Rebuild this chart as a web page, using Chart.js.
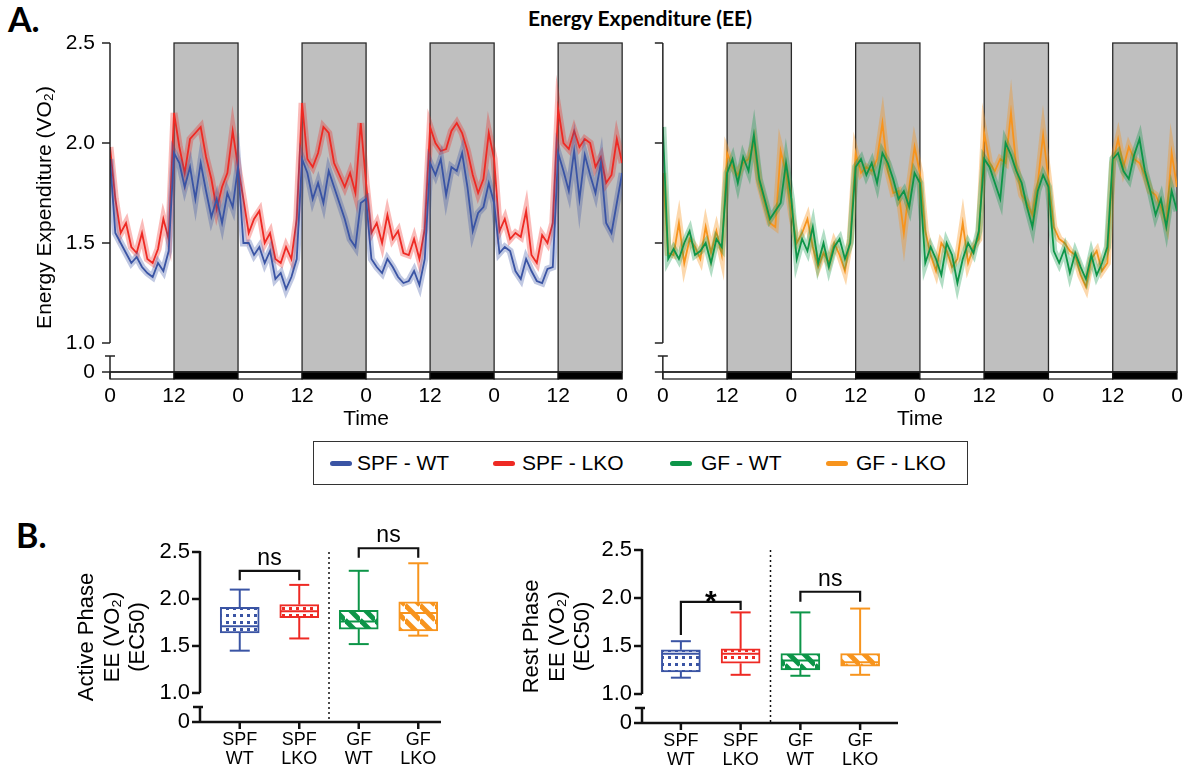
<!DOCTYPE html>
<html><head><meta charset="utf-8">
<script src="https://cdn.jsdelivr.net/npm/chart.js@4/dist/chart.umd.min.js"></script>
<style>
html,body{margin:0;padding:0;background:#fff;}
body{width:1195px;height:773px;position:relative;overflow:hidden;font-family:"Liberation Sans",Arial,sans-serif;color:#000;}
canvas{position:absolute;}
.bold{position:absolute;font-family:Lato,"Liberation Sans",sans-serif;font-weight:700;white-space:nowrap;color:#000;}
#legend{position:absolute;left:313px;top:441px;width:653px;height:42px;border:1.5px solid #333;}
.li{position:absolute;top:0;height:42px;line-height:42px;font-size:21px;font-family:"Liberation Sans",Arial,sans-serif;white-space:nowrap;}
.sw{position:absolute;width:22px;height:5px;border-radius:3px;top:19px;}
</style></head><body>
<div class="bold" style="left:8px;top:-2px;font-size:34px;">A.</div>
<div class="bold" style="left:440px;top:5px;width:400px;text-align:center;font-size:21px;">Energy Expenditure (EE)</div>
<div class="bold" style="left:16px;top:514px;font-size:34px;">B.</div>
<canvas id="cA1" width="640" height="440" style="left:0;top:0;width:640px;height:440px"></canvas>
<canvas id="cA2" width="550" height="440" style="left:645px;top:0;width:550px;height:440px"></canvas>
<div id="legend">
  <div class="sw" style="left:16px;background:#3a54a4"></div><div class="li" style="left:43px">SPF - WT</div>
  <div class="sw" style="left:179px;background:#ee2a24"></div><div class="li" style="left:208px">SPF - LKO</div>
  <div class="sw" style="left:356px;background:#0d9548"></div><div class="li" style="left:387px">GF - WT</div>
  <div class="sw" style="left:512px;background:#f7941d"></div><div class="li" style="left:542px">GF - LKO</div>
</div>
<canvas id="cB1" width="470" height="273" style="left:0;top:500px;width:470px;height:273px"></canvas>
<canvas id="cB2" width="460" height="273" style="left:470px;top:500px;width:460px;height:273px"></canvas>
<script>
// ---------- Panel A data (hourly, 0..96 h) ----------
const spfWT = [1.92,1.55,1.50,1.45,1.40,1.43,1.38,1.35,1.33,1.40,1.36,1.46,
  1.95,1.90,1.78,1.88,1.72,1.90,1.76,1.63,1.72,1.60,1.75,1.68,1.88,
  1.50,1.50,1.44,1.48,1.40,1.46,1.32,1.35,1.27,1.33,1.42,
  1.92,1.85,1.72,1.80,1.70,1.86,1.78,1.70,1.62,1.52,1.48,1.70,1.72,
  1.42,1.38,1.35,1.42,1.38,1.33,1.30,1.31,1.36,1.29,1.42,
  1.90,1.84,1.92,1.74,1.88,1.86,1.95,1.78,1.56,1.65,1.68,1.80,1.70,
  1.45,1.48,1.46,1.36,1.32,1.42,1.36,1.31,1.30,1.37,1.38,
  1.95,1.86,1.76,1.96,1.72,1.94,1.84,1.75,1.90,1.60,1.55,1.70,1.85];
const spfLKO = [1.98,1.72,1.55,1.60,1.48,1.45,1.55,1.42,1.40,1.47,1.62,1.52,
  2.15,1.98,1.85,2.02,2.05,2.08,1.93,1.82,1.67,1.78,1.85,2.06,1.88,
  1.72,1.55,1.62,1.66,1.50,1.55,1.42,1.40,1.48,1.42,1.62,
  2.20,1.92,1.88,1.95,2.08,2.05,1.90,1.84,1.78,1.85,1.75,2.10,1.80,
  1.55,1.60,1.50,1.64,1.52,1.56,1.45,1.44,1.52,1.42,1.57,
  2.08,2.00,1.96,1.97,2.06,2.10,2.05,1.96,1.84,1.75,1.82,2.05,1.92,
  1.56,1.62,1.52,1.55,1.53,1.66,1.44,1.40,1.54,1.50,1.60,
  2.17,2.00,1.97,2.06,1.98,2.02,2.00,1.88,1.93,1.80,1.84,2.02,1.90];
const gfWT = [2.08,1.42,1.47,1.42,1.50,1.56,1.44,1.46,1.50,1.40,1.52,1.48,
  1.85,1.92,1.80,1.93,1.86,2.04,1.82,1.72,1.62,1.66,1.70,1.90,1.72,
  1.42,1.52,1.46,1.58,1.40,1.50,1.38,1.48,1.52,1.42,1.50,
  1.88,1.92,1.84,1.90,1.80,1.95,1.90,1.82,1.72,1.76,1.68,1.85,1.80,
  1.40,1.48,1.42,1.34,1.50,1.44,1.30,1.42,1.50,1.45,1.56,
  1.92,1.88,1.80,1.72,2.00,1.94,1.86,1.80,1.68,1.58,1.76,1.84,1.78,
  1.46,1.40,1.47,1.35,1.45,1.38,1.32,1.44,1.34,1.40,1.48,
  1.92,1.95,1.86,1.82,1.94,2.02,1.86,1.76,1.64,1.72,1.58,1.76,1.66];
const gfLKO = [1.85,1.45,1.44,1.60,1.40,1.52,1.48,1.42,1.58,1.45,1.56,1.44,
  1.95,1.88,1.84,1.90,1.92,2.00,1.80,1.70,1.60,1.58,1.96,1.85,1.65,
  1.50,1.55,1.62,1.48,1.38,1.45,1.40,1.50,1.44,1.36,1.52,
  1.95,1.85,1.88,1.86,1.92,2.10,1.86,1.75,1.76,1.55,1.78,1.98,1.85,
  1.56,1.44,1.36,1.50,1.46,1.38,1.42,1.60,1.40,1.48,1.52,
  2.05,1.90,1.86,1.92,1.90,2.15,1.88,1.74,1.70,1.64,1.80,2.04,1.82,
  1.58,1.52,1.50,1.46,1.44,1.34,1.28,1.42,1.46,1.36,1.40,
  1.90,2.02,1.88,1.98,1.92,1.90,1.84,1.76,1.74,1.68,1.60,1.95,1.78];
const timeTicks = [0,12,24,36,48,60,72,84,96];
const timeTickLabels = ['0','12','0','12','0','12','0','12','0'];
const darkPhases = [[12,24],[36,48],[60,72],[84,96]];
const eeTicks = [1.0,1.5,2.0,2.5];

// ---------- Panel B data ----------
const boxCats = [['SPF','WT'],['SPF','LKO'],['GF','WT'],['GF','LKO']];
const activeMin = [1.45,1.58,1.52,1.61];
const activeQ1  = [1.64,1.80,1.68,1.66];
const activeMed = [1.71,1.87,1.76,1.85];
const activeQ3  = [1.91,1.94,1.88,1.97];
const activeMax = [2.10,2.15,2.30,2.38];
const restMin = [1.17,1.20,1.19,1.20];
const restQ1  = [1.23,1.32,1.25,1.29];
const restMed = [1.42,1.42,1.35,1.33];
const restQ3  = [1.46,1.47,1.42,1.42];
const restMax = [1.55,1.85,1.85,1.89];
const boxTicks = [1.0,1.5,2.0,2.5];

const C = {blue:'#3a54a4', red:'#ee2a24', green:'#0d9548', orange:'#f7941d'};
const band = {blue:'rgba(58,84,164,0.32)', red:'rgba(238,42,36,0.32)', green:'rgba(13,149,72,0.32)', orange:'rgba(247,148,29,0.36)'};
const FONT = '"Liberation Sans", Arial, sans-serif';

function line(ctx,x0,y0,x1,y1){ctx.beginPath();ctx.moveTo(x0,y0);ctx.lineTo(x1,y1);ctx.stroke();}

const eePlugin = {
  id:'ee',
  beforeDatasetsDraw(chart){
    const {ctx, chartArea:a, scales:{x}} = chart;
    ctx.save();
    darkPhases.forEach(([s,e])=>{
      const x0=x.getPixelForValue(s), x1=x.getPixelForValue(e);
      ctx.fillStyle='#bfbfbf'; ctx.fillRect(x0,a.top,x1-x0,a.bottom-a.top);
      ctx.strokeStyle='#2a2a2a'; ctx.lineWidth=1.3; ctx.strokeRect(x0,a.top,x1-x0,a.bottom-a.top);
    });
    ctx.restore();
  },
  afterDatasetsDraw(chart){
    const {ctx, chartArea:a, scales:{x,y}} = chart;
    ctx.save();
    const ax=a.left, base=a.bottom, bh=7;
    for(let i=0;i<timeTicks.length-1;i++){
      const s=timeTicks[i], e=timeTicks[i+1];
      const dark = darkPhases.some(d=>d[0]===s);
      const x0=x.getPixelForValue(s), x1=x.getPixelForValue(e);
      ctx.fillStyle = dark ? '#000' : '#fff';
      ctx.fillRect(x0,base,x1-x0,bh);
      ctx.strokeStyle='#111'; ctx.lineWidth=1.2; ctx.strokeRect(x0,base,x1-x0,bh);
    }
    ctx.strokeStyle='#222'; ctx.lineWidth=1.5;
    line(ctx, ax-8, base, a.right, base);
    line(ctx, ax, y.getPixelForValue(2.5), ax, y.getPixelForValue(1.0));
    eeTicks.forEach(v=>{const p=y.getPixelForValue(v); line(ctx, ax-8, p, ax, p);});
    line(ctx, ax, base-16, ax, base+bh);
    line(ctx, ax-5, base-16, ax+5, base-16);
    ctx.restore();
  }
};

function makeEE(id, top, bottom, showLabels, padRight){
  const canvas=document.getElementById(id);
  const yMin=0.855;
  const ds=(data,col,w)=>({data:data.map((v,i)=>({x:i,y:v})), borderColor:col, borderWidth:w, pointRadius:0, tension:0, fill:false});
  return new Chart(canvas,{
    type:'line',
    data:{datasets:[ds(top.d,C[top.c],1.8), ds(top.d,band[top.c],7), ds(bottom.d,C[bottom.c],1.8), ds(bottom.d,band[bottom.c],7)]},
    options:{
      responsive:false, animation:false, devicePixelRatio:1,
      layout:{padding:{top:43,left:0,right:padRight,bottom:0}},
      plugins:{legend:{display:false},tooltip:{enabled:false}},
      scales:{
        x:{type:'linear',min:0,max:96,
          afterBuildTicks:s=>{s.ticks=timeTicks.map(v=>({value:v}));},
          ticks:{callback:(v,i)=>timeTickLabels[i],font:{family:FONT,size:21},color:'#000',padding:12,autoSkip:false,maxRotation:0},
          grid:{display:false,drawTicks:false},border:{display:false},
          title:{display:true,text:'Time',font:{family:FONT,size:21},color:'#000',padding:{top:0,bottom:8}},
          afterFit:s=>{s.height=68;}},
        y:{type:'linear',min:yMin,max:2.5,
          afterBuildTicks:s=>{s.ticks=[yMin].concat(eeTicks).map(v=>({value:v}));},
          ticks:{display:showLabels,callback:v=>Math.abs(v-yMin)<1e-6?'0':v.toFixed(1),font:{family:FONT,size:21},color:'#000',padding:15,autoSkip:false},
          grid:{display:false,drawTicks:false},border:{display:false},
          title:{display:showLabels,text:'Energy Expenditure (VO\u2082)',font:{family:FONT,size:21},color:'#000',padding:{top:33,bottom:0}},
          afterFit:s=>{s.width=showLabels?110:14;}}
      }
    },
    plugins:[eePlugin]
  });
}
makeEE('cA1',{d:spfWT,c:'blue'},{d:spfLKO,c:'red'},true,12);
makeEE('cA2',{d:gfWT,c:'green'},{d:gfLKO,c:'orange'},false,18);

// ---------- Panel B ----------
function pattern(ctx,color,kind){
  const s = kind==='dots'?7:15;
  const t=document.createElement('canvas'); t.width=s; t.height=s;
  const g=t.getContext('2d');
  g.fillStyle='#fff'; g.fillRect(0,0,s,s);
  if(kind==='dots'){ g.fillStyle=color; g.fillRect(2,2,3,3); }
  else { g.strokeStyle=color; g.lineWidth=5; [-s,0,s].forEach(k=>{g.beginPath();g.moveTo(0,k);g.lineTo(s,s+k);g.stroke();}); }
  return ctx.createPattern(t,'repeat');
}
const boxPlugin = {
  id:'boxw',
  afterDatasetsDraw(chart,args,o){
    const {ctx, chartArea:a, scales:{x,y}} = chart;
    ctx.save();
    const ax=a.left-o.axisGap;
    ctx.strokeStyle='#111'; ctx.lineWidth=2.5;
    line(ctx, ax, y.getPixelForValue(2.5)-1, ax, y.getPixelForValue(1.0));
    boxTicks.forEach(v=>{const p=y.getPixelForValue(v); line(ctx, ax-8, p, ax, p);});
    line(ctx, ax, a.bottom-15, ax, a.bottom);
    line(ctx, ax-7, a.bottom-15, ax+3, a.bottom-15);
    line(ctx, ax-8, a.bottom, a.right+o.axisEnd, a.bottom);
    for(let i=0;i<boxCats.length;i++){const p=x.getPixelForValue(i); line(ctx,p,a.bottom,p,a.bottom+7);}
    ctx.lineWidth=1.5; ctx.setLineDash([2,3]);
    const sx=(x.getPixelForValue(1)+x.getPixelForValue(2))/2;
    line(ctx, sx, y.getPixelForValue(2.5), sx, a.bottom);
    ctx.setLineDash([]);
    ctx.lineWidth=2;
    for(let i=0;i<boxCats.length;i++){
      const p=x.getPixelForValue(i);
      ctx.strokeStyle=o.colors[i];
      const ymx=y.getPixelForValue(o.max[i]), yq3=y.getPixelForValue(o.q3[i]);
      const yq1=y.getPixelForValue(o.q1[i]), ymn=y.getPixelForValue(o.min[i]);
      const ymd=y.getPixelForValue(o.med[i]);
      line(ctx,p,ymx,p,yq3); line(ctx,p,yq1,p,ymn);
      line(ctx,p-10,ymx,p+10,ymx); line(ctx,p-10,ymn,p+10,ymn);
      line(ctx,p-19,ymd,p+19,ymd);
    }
    ctx.strokeStyle='#111'; ctx.lineWidth=2.2; ctx.fillStyle='#000';
    ctx.textAlign='center'; ctx.textBaseline='alphabetic';
    o.brackets.forEach(b=>{
      const x0=x.getPixelForValue(b.from), x1=x.getPixelForValue(b.to), yb=y.getPixelForValue(b.level);
      ctx.beginPath(); ctx.moveTo(x0,y.getPixelForValue(b.legFrom)); ctx.lineTo(x0,yb); ctx.lineTo(x1,yb); ctx.lineTo(x1,y.getPixelForValue(b.legTo)); ctx.stroke();
      if(b.label==='*'){ ctx.font='bold 30px '+FONT; ctx.fillText('*',(x0+x1)/2,yb+9); }
      else { ctx.font='23px '+FONT; ctx.fillText(b.label,(x0+x1)/2,yb-6); }
    });
    ctx.restore();
  }
};
function makeBox(id, yMin, q1, med, q3, mn, mx, titleLines, o){
  const canvas=document.getElementById(id);
  const ctx=canvas.getContext('2d');
  const cols=[C.blue,C.red,C.green,C.orange];
  const kinds=['dots','dots','stripes','stripes'];
  return new Chart(canvas,{
    type:'bar',
    data:{labels:boxCats, datasets:[{data:q1.map((v,i)=>[v,q3[i]]), backgroundColor:cols.map((c,i)=>pattern(ctx,c,kinds[i])), borderColor:cols, borderWidth:2, borderSkipped:false, barThickness:39}]},
    options:{
      responsive:false, animation:false, devicePixelRatio:1,
      layout:{padding:{top:o.padTop,left:0,right:o.padRight,bottom:0}},
      plugins:{legend:{display:false},tooltip:{enabled:false},
        boxw:{colors:cols,q1,med,q3,min:mn,max:mx,axisGap:o.axisGap,axisEnd:o.axisEnd,brackets:o.brackets}},
      scales:{
        x:{type:'category',offset:true,grid:{display:false,drawTicks:false},border:{display:false},
          ticks:{font:{family:FONT,size:18,lineHeight:1.05},color:'#000',padding:9,autoSkip:false,maxRotation:0},
          afterFit:s=>{s.height=o.xH;}},
        y:{type:'linear',min:yMin,max:2.5,
          afterBuildTicks:s=>{s.ticks=[yMin].concat(boxTicks).map(v=>({value:v}));},
          ticks:{callback:v=>Math.abs(v-yMin)<1e-6?'0':v.toFixed(1),font:{family:FONT,size:22},color:'#000',padding:o.axisGap+10,autoSkip:false},
          grid:{display:false,drawTicks:false},border:{display:false},
          title:{display:true,text:titleLines,font:{family:FONT,size:22,lineHeight:1.17},color:'#000',padding:{top:o.titlePad,bottom:0}},
          afterFit:s=>{s.width=o.yW;}}
      }
    },
    plugins:[boxPlugin]
  });
}
makeBox('cB1',0.691,activeQ1,activeMed,activeQ3,activeMin,activeMax,['Active Phase','EE (VO\u2082)','(EC50)'],
  {padTop:52,padRight:22,yW:210,xH:51,axisGap:10,axisEnd:-7,titlePad:74,
   brackets:[{from:0,to:1,level:2.30,legFrom:2.20,legTo:2.20,label:'ns'},{from:2,to:3,level:2.54,legFrom:2.44,legTo:2.44,label:'ns'}]});
makeBox('cB2',0.698,restQ1,restMed,restQ3,restMin,restMax,['Rest Phase','EE (VO\u2082)','(EC50)'],
  {padTop:50,padRight:40,yW:181,xH:50,axisGap:9,axisEnd:8,titlePad:49,
   brackets:[{from:0,to:1,level:1.96,legFrom:1.615,legTo:1.875,label:'*'},{from:2,to:3,level:2.065,legFrom:1.96,legTo:1.96,label:'ns'}]});
</script>
</body></html>
